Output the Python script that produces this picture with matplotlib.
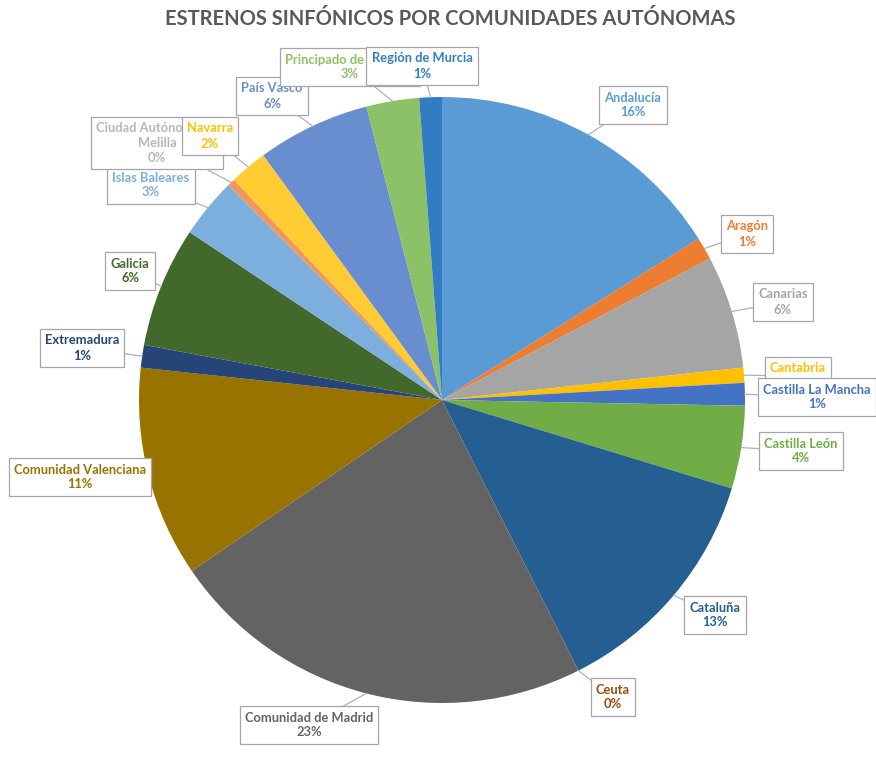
import numpy as np
import matplotlib.pyplot as plt

plt.rcParams['font.family'] = ['Lato', 'DejaVu Sans']

regiones = ["Andalucía", "Aragón", "Canarias", "Cantabria", "Castilla La Mancha",
            "Castilla León", "Cataluña", "Ceuta", "Comunidad de Madrid",
            "Comunidad Valenciana", "Extremadura", "Galicia", "Islas Baleares",
            "Ciudad Autónoma de\nMelilla", "Navarra", "País Vasco",
            "Principado de Asturias", "Región de Murcia"]
estrenos = [40, 3, 15, 2, 3, 11, 32, 0, 57, 28, 3, 16, 8, 1, 5, 15, 7, 3]

colores = ["#5B9BD5", "#ED7D31", "#A5A5A5", "#FFC000", "#4472C4", "#70AD47",
           "#255E91", "#9E480E", "#636363", "#997300", "#264478", "#43682B",
           "#7CAFDD", "#F1975A", "#FFCD33", "#698ED0", "#8CC168", "#327DC2"]
colores_texto = ["#5B9BD5", "#ED7D31", "#A5A5A5", "#FFC000", "#4472C4", "#70AD47",
                 "#255E91", "#9E480E", "#636363", "#997300", "#264478", "#43682B",
                 "#7CAFDD", "#B7B7B7", "#FFC000", "#698ED0", "#8CC168", "#327DC2"]

# centro de cada cuadro de etiqueta (px, origen arriba a la izquierda)
pos_etiquetas = [(633, 105), (747, 234), (783, 302), (798, 376), (817, 397),
                 (801, 451), (715, 615), (613, 697), (309, 725), (80, 477),
                 (82, 348), (130, 271), (151, 185), (157, 143), (210, 136),
                 (272, 96), (350, 67), (422, 66)]

W, H = 876, 758
fig = plt.figure(figsize=(W / 100, H / 100), dpi=100)
ax = fig.add_axes([0, 0, 1, 1])

cx, cy, r = 442, 400, 303
wedges, _ = ax.pie(estrenos, colors=colores, startangle=-90, counterclock=True,
                   center=(cx, cy), radius=r, frame=True,
                   wedgeprops=dict(linewidth=0))
ax.set_xlim(0, W)
ax.set_ylim(H, 0)
ax.set_aspect('equal')
ax.axis('off')

total = sum(estrenos)
for i, w in enumerate(wedges):
    mid = np.deg2rad((w.theta1 + w.theta2) / 2)
    px, py = cx + r * np.cos(mid), cy + r * np.sin(mid)
    lx, ly = pos_etiquetas[i]
    ax.plot([px, lx], [py, ly], color="#A6B4C2", lw=0.9, zorder=5)
    pct = estrenos[i] / total * 100
    # los cuadros posteriores quedan por encima de los anteriores
    ax.text(lx, ly, f"{regiones[i]}\n{pct:.0f}%", ha='center', va='center',
            fontsize=9.3, fontweight='bold', color=colores_texto[i],
            linespacing=1.3, zorder=10 + i,
            bbox=dict(boxstyle='square,pad=0.4', fc='white', ec='#A6A6A6', lw=0.9))

ax.text(450, 19, "ESTRENOS SINFÓNICOS POR COMUNIDADES AUTÓNOMAS", ha='center',
        va='center', fontsize=14.5, fontweight='bold', color='#595959')

fig.savefig("out.png", dpi=100)
